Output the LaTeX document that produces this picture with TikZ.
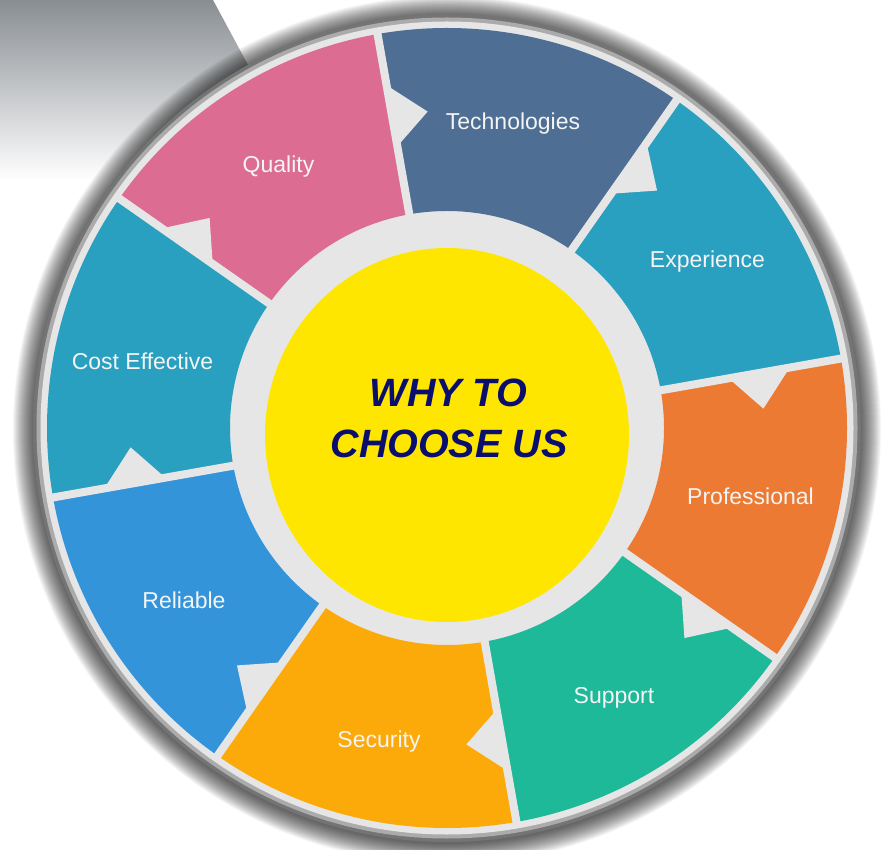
\documentclass[tikz,border=0pt]{standalone}
\usepackage{fontspec}
\setmainfont{Liberation Sans}
\usetikzlibrary{calc}
\definecolor{cQual}{HTML}{DC6C91}
\definecolor{cTech}{HTML}{4E6E94}
\definecolor{cExp}{HTML}{29A0C0}
\definecolor{cProf}{HTML}{EC7A32}
\definecolor{cSupp}{HTML}{1EB999}
\definecolor{cSec}{HTML}{FCAA0A}
\definecolor{cRel}{HTML}{3494DA}
\definecolor{cCost}{HTML}{29A0C0}
\definecolor{yel}{HTML}{FFE600}
\definecolor{navy}{HTML}{0A0F6E}
\definecolor{ringgray}{HTML}{E6E6E6}
\definecolor{rimdark}{HTML}{747474}
\definecolor{rimmid}{HTML}{ABABAB}
\definecolor{bannertop}{HTML}{898E93}
\definecolor{bannermid}{HTML}{BDBFC2}
\definecolor{lblwhite}{HTML}{F4F4F4}
\tikzset{
  lbl/.style={font=\fontsize{23}{27}\selectfont, text=lblwhite, inner sep=0pt, anchor=base},
  hub/.style={font=\fontsize{39.5}{50}\selectfont\bfseries\itshape, text=navy, inner sep=0pt, anchor=base},
  gapline/.style={draw=ringgray, line width=8pt},
  notch/.style={fill=ringgray}
}
\begin{document}
\begin{tikzpicture}[x=1pt,y=1pt]
\useasboundingbox (0,0) rectangle (888,849);
\fill[white] (0,0) rectangle (888,849);
% top-left grey banner
\shade[top color=bannertop, middle color=bannermid, bottom color=white]
  (0,849) -- (213,849) -- (310,669) -- (0,669) -- cycle;
\begin{scope}[shift={(447,421)}]
  % soft shadow
  \foreach \r in {434,433,...,414}
    \fill[black, opacity=0.04] (0,-2) circle[radius=\r pt];
  % rim
  \fill[rimdark] (0,0) circle[radius=414pt];
  \fill[rimmid] (0,0) circle[radius=410.5pt];
  \fill[ringgray] (0,0) circle[radius=406.5pt];
  % segments
  \foreach \a/\c in {100/cTech, 55/cExp, 10/cProf, -35/cSupp, -80/cSec, -125/cRel, -170/cCost, 145/cQual}
    \fill[\c] (\a:217) -- (\a:400) arc[start angle=\a, end angle=\a-45, radius=400pt]
      -- ({\a-45}:217) arc[start angle=\a-45, end angle=\a, radius=217pt] -- cycle;
  % gaps and notches
  \foreach \a in {100, 55, 10, -35, -80, -125, -170, 145}{
    \draw[gapline] (\a:205) -- (\a:405);
    \fill[notch] (\a:286) -- (\a:348) -- ({\a-6.5}:317) -- cycle;
  }
  % yellow hub
  \fill[yel] (0,-7) ellipse[x radius=182pt, y radius=187pt];
\end{scope}
% labels
\node[lbl] (tech) at (513,719) {Technologies};
\node[lbl] (qual) at (278.5,676) {Quality};
\node[lbl] (exp) at (707.5,581) {Experience};
\node[lbl] (cost) at (142.5,479) {Cost Effective};
\node[lbl] (prof) at (750.5,344) {Professional};
\node[lbl] (rel) at (184,241) {Reliable};
\node[lbl] (supp) at (614,146) {Support};
\node[lbl] (sec) at (379,102) {Security};
\node[hub] (why1) at (448.5,442) {WHY TO};
\node[hub] (why2) at (449,391) {CHOOSE US};
\end{tikzpicture}
\end{document}
